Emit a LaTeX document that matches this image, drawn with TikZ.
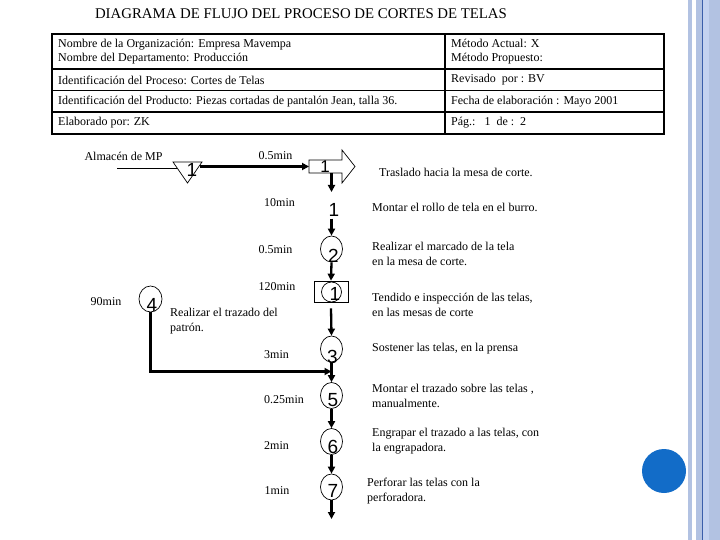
\documentclass[tikz,border=0pt]{standalone}
\usepackage{fontspec}
\setmainfont{Liberation Serif}
\newfontfamily\numfont{Liberation Sans}
\usetikzlibrary{arrows.meta,shapes.geometric,positioning}

\definecolor{stripeA}{RGB}{178,194,226}
\definecolor{stripeB}{RGB}{196,210,240}
\definecolor{stripeLine}{RGB}{58,94,170}
\definecolor{dotBlue}{RGB}{18,108,200}

\begin{document}
\begin{tikzpicture}[x=1pt, y=-1pt,
    txt/.style={font=\fontsize{12}{15}\selectfont, inner sep=0, align=left, anchor=west},
    tm/.style={font=\fontsize{12}{15}\selectfont, inner sep=0},
    num/.style={font=\numfont\fontsize{19}{19}\selectfont, inner sep=0},
    op/.style={draw, ellipse, minimum width=22pt, minimum height=26pt, inner sep=0, line width=0.7pt},
    arr/.style={-{Triangle[length=7pt,width=7pt]}, line width=2.3pt},
    grid/.style={line width=1.8pt}
]
\useasboundingbox (0,0) rectangle (720,540);
\fill[white] (0,0) rectangle (720,540);

% right margin decoration
\fill[stripeA] (688,0) rectangle (692,540);
\fill[stripeA] (696,0) rectangle (720,540);
\fill[stripeB] (703,0) rectangle (709,540);
\fill[stripeLine] (702,0) rectangle (703,540);
\fill[dotBlue] (664,471) circle (22pt);

% title and header table
\node[font=\fontsize{14.8}{15}\selectfont, inner sep=0] (title) at (301,14) {DIAGRAMA DE FLUJO DEL PROCESO DE CORTES DE TELAS};
\draw[grid] (52,34) rectangle (664,134);
\draw[grid] (52,69) -- (664,69);
\draw[grid] (52,90.5) -- (664,90.5);
\draw[grid] (52,112) -- (664,112);
\draw[grid] (445,34) -- (445,134);
\node[txt, font=\fontsize{12}{14}\selectfont] (org) at (58,52) {Nombre de la Organización: Empresa Mavempa\\Nombre del Departamento: Producción};
\node[txt] (proc) at (58,80) {Identificación del Proceso: Cortes de Telas};
\node[txt] (prod) at (58,102) {Identificación del Producto: Piezas cortadas de pantalón Jean, talla 36.};
\node[txt] (elab) at (58,123) {Elaborado por: ZK};
\node[txt, font=\fontsize{12}{14}\selectfont] (met) at (451,52) {Método Actual: X\\Método Propuesto:};
\node[txt] (rev) at (451,80) {Revisado~ por : BV};
\node[txt] (fecha) at (451,102) {Fecha de elaboración : Mayo 2001};
\node[txt] (pag) at (451,123) {Pág.:\ \ \ 1\ \ de :\ \ 2};

% almacen and transport
\node[tm] (mp) at (123.5,156) {Almacén de MP};
\coordinate (mp-in) at (117,168);
\draw[line width=0.7pt] (173,162) -- (202,162) -- (187.5,183) -- cycle;
\coordinate (alm-w) at (177,168);
\coordinate (alm-e) at (200,166.5);
\node[num] (n-alm) at (192,170) {1};
\draw[line width=0.8pt] (mp-in) -- (alm-w);
\draw[line width=0.7pt] (309,160) -- (342,160) -- (342,150) -- (355,166.5) -- (342,183) -- (342,173) -- (309,173) -- cycle;
\coordinate (tr-w) at (309,166.5);
\coordinate (tr-s) at (331.5,173);
\coordinate (tr-end) at (331.5,192);
\node[num, font=\numfont\fontsize{17}{17}\selectfont] (n-tr) at (325,166.5) {1};
\draw[arr] (alm-e) -- (tr-w);
\node[tm] (t-tr) at (275.5,156) {0.5min};
\draw[arr] (tr-s) -- (tr-end);
\node[txt] (d-tr) at (379,172) {Traslado hacia la mesa de corte.};

% main column
\node[num] (mont) at (334,210) {1};
\node[op] (o2) at (331.5,249) {};
\node[num] (n2) at (333.5,256) {2};
\node[draw, minimum width=34pt, minimum height=21pt, line width=0.7pt] (insp) at (331,291.5) {};
\node[op, minimum width=20pt, minimum height=20pt] (o-insp) at (331.5,292) {};
\node[num] (n-insp) at (335,293.5) {1};
\node[op] (o3) at (331.5,349) {};
\node[num] (n3) at (332.5,356.5) {3};
\node[op] (o5) at (331.5,395.5) {};
\node[num] (n5) at (333,400) {5};
\node[op] (o6) at (331.5,441.5) {};
\node[num] (n6) at (333,447) {6};
\node[op] (o7) at (331.5,487) {};
\node[num] (n7) at (333,490.5) {7};
\coordinate (join) at (331.5,371.5);
\coordinate (end) at (331.5,519);

\draw[arr] ([yshift=-2pt]mont.south -| o2.north) -- (o2.north);
\draw[arr] (o2.south) -- (insp.north);
\draw[arr] ([yshift=-6pt]insp.south) -- (o3.north);
\draw[arr] (o3.south) -- (o5.north);
\draw[arr] (o5.south) -- (o6.north);
\draw[arr] (o6.south) -- (o7.north);
\draw[arr] (o7.south) -- (end);

% side branch
\node[op, minimum width=23pt] (o4) at (150.5,299) {};
\node[num] (n4) at (152,305) {4};
\node[tm] (t4) at (106,302) {90min};
\node[txt] (d4) at (170,321.5) {Realizar el trazado del\\patrón.};
\draw[arr] (o4.south) |- (join);

% times
\node[tm] (t-mont) at (279.5,203) {10min};
\node[tm] (t2) at (275.5,250) {0.5min};
\node[tm] (t-insp) at (277,287) {120min};
\node[tm] (t3) at (276.5,355) {3min};
\node[tm] (t5) at (284,400) {0.25min};
\node[tm] (t6) at (276.5,446) {2min};
\node[tm] (t7) at (277,491) {1min};

% descriptions
\node[txt] (d-mont) at (372,207) {Montar el rollo de tela en el burro.};
\node[txt] (d2) at (372,253.5) {Realizar el marcado de la tela\\en la mesa de corte.};
\node[txt] (d-insp) at (372,304.5) {Tendido e inspección de las telas,\\en las mesas de corte};
\node[txt] (d3) at (372,349) {Sostener las telas, en la prensa};
\node[txt] (d5) at (372,396) {Montar el trazado sobre las telas ,\\manualmente.};
\node[txt] (d6) at (372,441.5) {Engrapar el trazado a las telas, con\\la engrapadora.};
\node[txt] (d7) at (367,491.5) {Perforar las telas con la\\perforadora.};
\end{tikzpicture}
\end{document}
